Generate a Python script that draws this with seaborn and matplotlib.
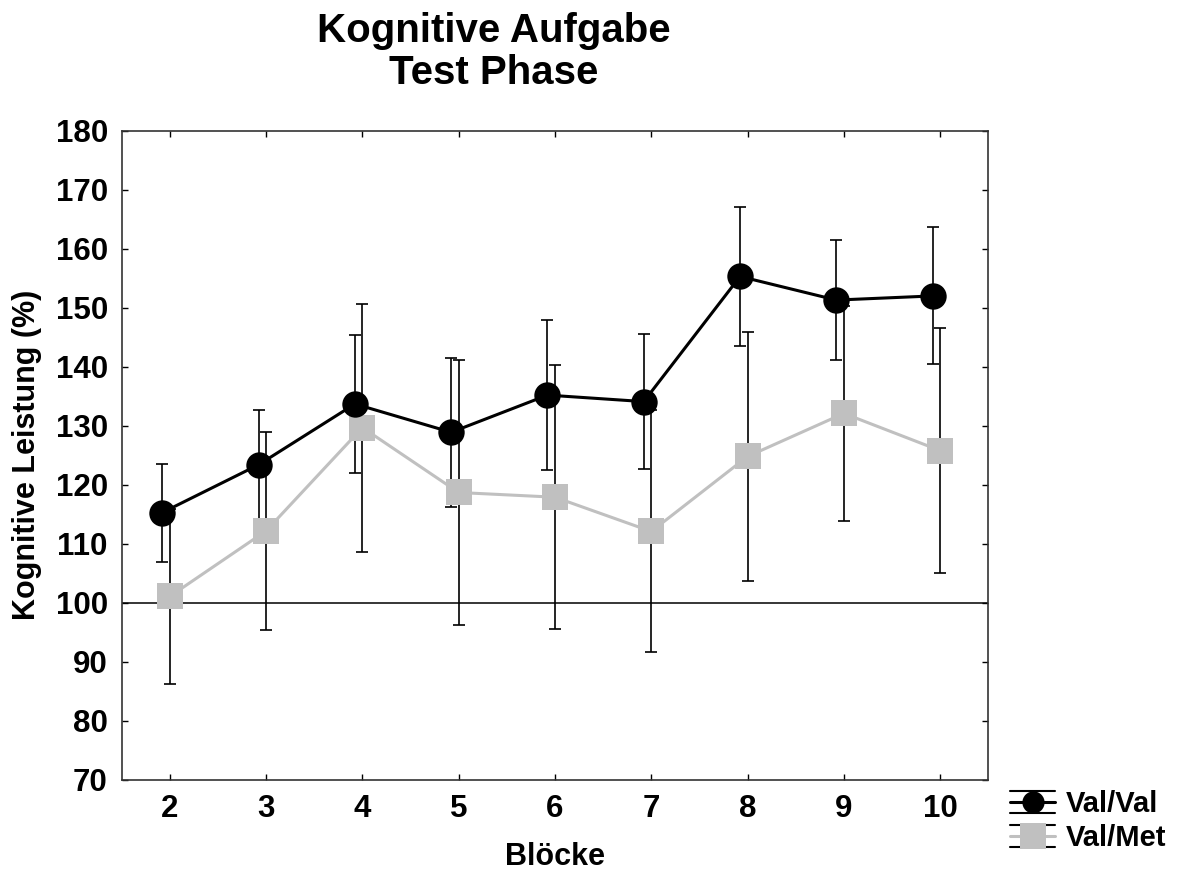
import numpy as np
import pandas as pd
import matplotlib
matplotlib.use("Agg")
import matplotlib.pyplot as plt
from matplotlib.lines import Line2D
from matplotlib.legend_handler import HandlerBase
import seaborn as sns

# Blocks of the test phase
bloecke = [2, 3, 4, 5, 6, 7, 8, 9, 10]

# Group means and error bar half-widths (% of baseline)
valval_mean = [115.3, 123.4, 133.7, 128.9, 135.2, 134.1, 155.3, 151.3, 152.0]
valval_err = [8.3, 9.2, 11.7, 12.6, 12.7, 11.5, 11.8, 10.2, 11.6]
valmet_mean = [101.1, 112.2, 129.7, 118.7, 117.9, 112.1, 124.8, 132.1, 125.8]
valmet_err = [14.8, 16.8, 21.0, 22.4, 22.4, 20.5, 21.1, 18.2, 20.7]

groups = ["Val/Met", "Val/Val"]
y_ticks = list(range(70, 181, 10))

sns.set_style("ticks")
plt.rcParams["font.family"] = ["Liberation Sans", "DejaVu Sans"]
plt.rcParams["font.weight"] = "bold"
plt.rcParams["axes.labelweight"] = "bold"
plt.rcParams["text.color"] = "black"
plt.rcParams["axes.labelcolor"] = "black"
plt.rcParams["xtick.color"] = "black"
plt.rcParams["ytick.color"] = "black"

colors = {"Val/Val": "#000000", "Val/Met": "#c0c0c0"}
markers = {"Val/Val": "o", "Val/Met": "s"}
dodge = {"Val/Val": -0.078, "Val/Met": 0.0}

means = {"Val/Val": valval_mean, "Val/Met": valmet_mean}
errs = {"Val/Val": valval_err, "Val/Met": valmet_err}

df = pd.concat(
    [
        pd.DataFrame({
            "Block": bloecke,
            "Leistung": means[g],
            "Fehler": errs[g],
            "Gruppe": g,
        })
        for g in groups
    ],
    ignore_index=True,
)
df["pos"] = df["Block"] + df["Gruppe"].map(dodge)

fig = plt.figure(figsize=(11.94, 8.74), dpi=100)
ax = fig.add_axes([0.1019, 0.1076, 0.7258, 0.7429])

# reference line at 100 %
ax.axhline(100, color="black", lw=1.1, zorder=1)

# error bars beneath the markers
for g in groups:
    sub = df[df["Gruppe"] == g]
    ax.errorbar(sub["pos"], sub["Leistung"], yerr=sub["Fehler"], fmt="none",
                ecolor="black", elinewidth=1.2, capsize=4, capthick=1.2,
                zorder=1.5)

sns.lineplot(data=df, x="pos", y="Leistung", hue="Gruppe", style="Gruppe",
             hue_order=groups, style_order=groups, palette=colors,
             markers=markers, dashes=False, markersize=19,
             markeredgewidth=0, linewidth=2.2, legend=False, ax=ax,
             zorder=2)

ax.set_xlim(1.5, 10.5)
ax.set_ylim(70, 180)
ax.set_xticks(bloecke)
ax.set_yticks(y_ticks)
ax.tick_params(direction="in", top=True, right=True, length=4, width=1,
               pad=10, labelsize=22.5, colors="black")
for s in ax.spines.values():
    s.set_color("#333333")
    s.set_linewidth(1.2)

ax.set_xlabel("Blöcke", fontsize=22, labelpad=13)
ax.set_ylabel("Kognitive Leistung (%)", fontsize=22, labelpad=10)

# title, two centred lines
fig.text(0.4133, 1 - 42 / 874, "Kognitive Aufgabe", ha="center",
         va="baseline", fontsize=29, fontweight="bold")
fig.text(0.4133, 1 - 84 / 874, "Test Phase", ha="center",
         va="baseline", fontsize=29, fontweight="bold")


class ErrorbarKey(HandlerBase):
    """Legend key: line, marker and an error bar with wide caps."""

    def create_artists(self, legend, orig_handle, xdescent, ydescent,
                       width, height, fontsize, trans):
        cx = width / 2 - xdescent
        cy = height / 2 - ydescent
        half = 0.38 * fontsize
        x0, x1 = -xdescent, width - xdescent
        line = Line2D([x0, x1], [cy, cy], color=orig_handle.get_color(),
                      lw=orig_handle.get_linewidth())
        vert = Line2D([cx, cx], [cy - half, cy + half], color="black", lw=1.2)
        top = Line2D([x0, x1], [cy + half] * 2, color="black", lw=1.5)
        bot = Line2D([x0, x1], [cy - half] * 2, color="black", lw=1.5)
        mark = Line2D([cx], [cy], marker=orig_handle.get_marker(),
                      ms=orig_handle.get_markersize(), mew=0,
                      color=orig_handle.get_color(), ls="none")
        arts = [line, vert, top, bot, mark]
        for a in arts:
            a.set_transform(trans)
        return arts


keys = {}
for g, ms in [("Val/Val", 16.0), ("Val/Met", 18.5)]:
    keys[g] = Line2D([], [], color=colors[g], marker=markers[g], ms=ms,
                     lw=2.2)
fig.legend(handles=[keys["Val/Val"], keys["Val/Met"]],
           labels=["Val/Val", "Val/Met"],
           handler_map={h: ErrorbarKey() for h in keys.values()},
           loc="upper left", bbox_to_anchor=(1010 / 1194, 1 - 790 / 874),
           frameon=False, fontsize=21, handlelength=1.55, handletextpad=0.35,
           labelspacing=0.2, borderpad=0, borderaxespad=0)

fig.savefig("out.png", dpi=100)
